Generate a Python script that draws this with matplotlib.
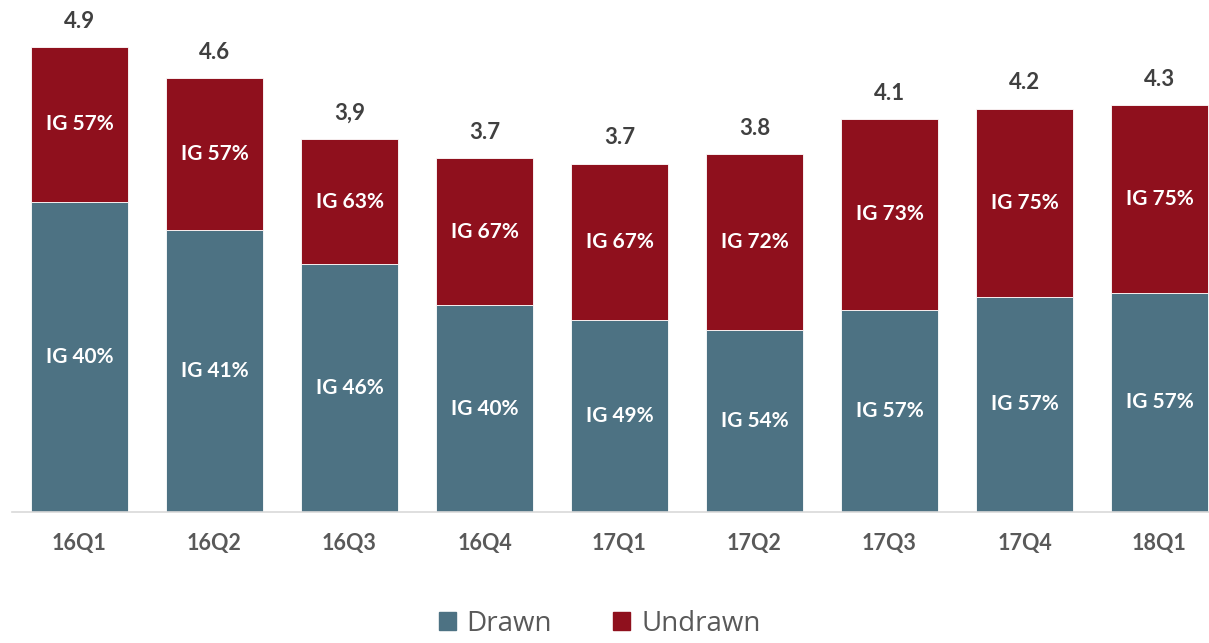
import matplotlib
matplotlib.use("Agg")
import matplotlib.pyplot as plt
from matplotlib.patches import Patch
import numpy as np

quarters = ["16Q1", "16Q2", "16Q3", "16Q4", "17Q1", "17Q2", "17Q3", "17Q4", "18Q1"]
drawn = [3.27, 2.97, 2.61, 2.18, 2.02, 1.92, 2.13, 2.27, 2.31]
undrawn = [1.63, 1.60, 1.32, 1.55, 1.65, 1.85, 2.01, 1.98, 1.98]
total_labels = ["4.9", "4.6", "3,9", "3.7", "3.7", "3.8", "4.1", "4.2", "4.3"]
drawn_ig = ["IG 40%", "IG 41%", "IG 46%", "IG 40%", "IG 49%", "IG 54%", "IG 57%", "IG 57%", "IG 57%"]
undrawn_ig = ["IG 57%", "IG 57%", "IG 63%", "IG 67%", "IG 67%", "IG 72%", "IG 73%", "IG 75%", "IG 75%"]

blue = "#4d7283"
red = "#8f101d"
lbl_font = "Lato"

W, H = 1209, 643
fig = plt.figure(figsize=(W / 100, H / 100), dpi=100)
ax = fig.add_axes([12 / W, (H - 512) / H, 1197 / W, 512 / H])

x = np.arange(len(quarters))
b1 = ax.bar(x, drawn, width=0.72, color=blue, edgecolor="white", linewidth=0.6)
b2 = ax.bar(x, undrawn, width=0.72, bottom=drawn, color=red, edgecolor="white", linewidth=0.6)

for i in x:
    ax.text(i, drawn[i] / 2, drawn_ig[i], ha="center", va="center", color="white",
            fontsize=15, fontweight="bold", family=lbl_font)
    ax.text(i, drawn[i] + undrawn[i] / 2, undrawn_ig[i], ha="center", va="center", color="white",
            fontsize=15, fontweight="bold", family=lbl_font)
    ax.annotate(total_labels[i], (i, drawn[i] + undrawn[i]), xytext=(0, 11), textcoords="offset points",
                ha="center", va="bottom", color="#404040", fontsize=16, fontweight="bold", family=lbl_font)

ax.set_xlim(-0.5, -0.5 + 1197 / 135)
ax.set_ylim(0, 512 / 94.9)
ax.set_xticks(x)
ax.set_xticklabels(quarters, fontsize=15.5, fontweight="bold", color="#595959", family=lbl_font)
ax.tick_params(axis="x", length=0, pad=15)
ax.set_yticks([])
for s in ["top", "right", "left"]:
    ax.spines[s].set_visible(False)
ax.spines["bottom"].set_color("#d9d9d9")
ax.spines["bottom"].set_linewidth(1.2)

handles = [Patch(color=blue, label="Drawn"), Patch(color=red, label="Undrawn")]
fig.legend(handles=handles, loc="center", bbox_to_anchor=(0.496, 0.03), ncol=2, frameon=False,
           prop={"family": "Open Sans", "size": 20}, labelcolor="#595959",
           handlelength=0.6, handleheight=0.6, handletextpad=0.4, columnspacing=2.2)

fig.savefig("out.png", dpi=100)
